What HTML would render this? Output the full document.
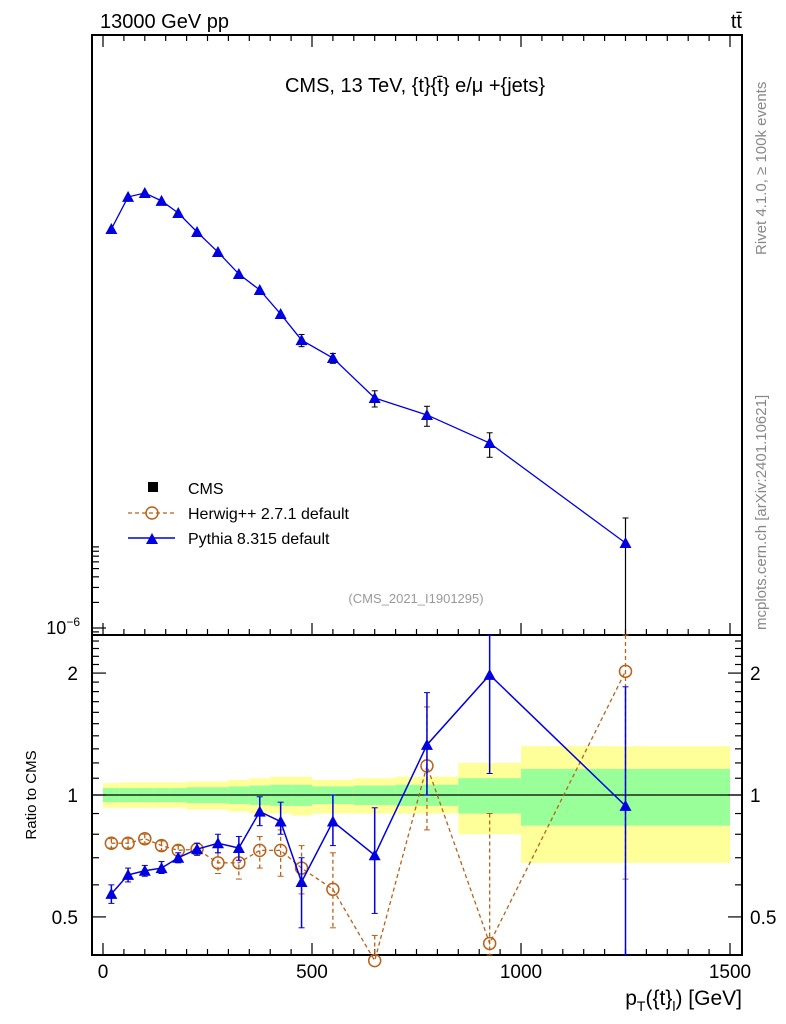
<!DOCTYPE html>
<html><head><meta charset="utf-8"><style>
body{margin:0;background:#fff}
svg{display:block;font-family:"Liberation Sans",sans-serif}
</style></head><body>
<svg id="c" width="786" height="1024" viewBox="0 0 786 1024" xmlns="http://www.w3.org/2000/svg">
<text x="100" y="28" font-size="20">13000 GeV pp</text>
<text x="742" y="28" font-size="20" text-anchor="end">tt̄</text>
<text x="415" y="92" font-size="20" text-anchor="middle">CMS, 13 TeV, {t}{t̄} e/μ +{jets}</text>
<text x="416" y="603" font-size="13" fill="#999" text-anchor="middle">(CMS_2021_I1901295)</text>
<text transform="translate(766,255) rotate(-90)" font-size="15" fill="#888">Rivet 4.1.0, ≥ 100k events</text>
<text transform="translate(766,630) rotate(-90)" font-size="15" fill="#888">mcplots.cern.ch [arXiv:2401.10621]</text>
<text transform="translate(36,795) rotate(-90)" font-size="15" text-anchor="middle">Ratio to CMS</text>
<text x="742" y="1005" font-size="21" text-anchor="end">p<tspan font-size="14" dy="6">T</tspan><tspan dy="-6">({t}</tspan><tspan font-size="14" dy="6">l</tspan><tspan dy="-6">) [GeV]</tspan></text>
<g id="bands"></g>
<g id="axes"></g>
<g id="series"></g>
<g>
<rect x="148" y="482" width="10" height="10" fill="#000"/>
<text x="188" y="494" font-size="16">CMS</text>
<line x1="128" y1="513" x2="175" y2="513" stroke="#b8621b" stroke-dasharray="4,3" stroke-width="1.3"/>
<circle cx="152" cy="513" r="6" fill="none" stroke="#b8621b" stroke-width="1.5"/>
<text x="188" y="519" font-size="16">Herwig++ 2.7.1 default</text>
<line x1="128" y1="538" x2="175" y2="538" stroke="#0000e0" stroke-width="1.5"/>
<path d="M146,544 L152,533 L158,544 Z" fill="#0000e0"/>
<text x="188" y="544" font-size="16">Pythia 8.315 default</text>
</g>
</svg>
<script>
const binEdges=[0,40,80,120,160,200,250,300,350,400,450,500,600,700,850,1000,1500];
const binCenters=[20,60,100,140,180,225,275,325,375,425,475,550,650,775,925,1250];
const yellowUp=[1.07,1.075,1.075,1.075,1.075,1.08,1.08,1.09,1.10,1.11,1.11,1.09,1.10,1.11,1.20,1.32];
const yellowLo=[0.93,0.93,0.93,0.93,0.93,0.92,0.92,0.91,0.90,0.90,0.89,0.90,0.90,0.90,0.80,0.68];
const greenUp=[1.04,1.04,1.04,1.04,1.04,1.045,1.045,1.05,1.055,1.06,1.06,1.05,1.055,1.06,1.10,1.16];
const greenLo=[0.96,0.96,0.96,0.96,0.96,0.955,0.955,0.95,0.945,0.94,0.94,0.95,0.945,0.94,0.90,0.84];
// main panel (log scale)
const pyMain=[4.94e-2,1.18e-1,1.31e-1,1.06e-1,7.63e-2,4.56e-2,2.65e-2,1.46e-2,9.47e-3,4.94e-3,2.44e-3,1.50e-3,5.08e-4,3.21e-4,1.50e-4,1.0e-5];
const pyMainErr=[0,0,0,0,0,0,0,0,0,0,4e-4,2e-4,1.1e-4,8.5e-5,4.8e-5,9.7e-6];
// ratio panel
const pyRatio=[0.57,0.635,0.65,0.66,0.70,0.735,0.76,0.74,0.91,0.86,0.61,0.86,0.71,1.33,1.98,0.94];
const pyRatioUp=[0.60,0.66,0.67,0.685,0.72,0.76,0.80,0.79,0.99,0.96,0.70,1.00,0.93,1.79,2.6,1.85];
const pyRatioLo=[0.54,0.61,0.63,0.64,0.68,0.71,0.72,0.69,0.84,0.80,0.47,0.75,0.51,1.00,1.13,0.3];
const hwRatio=[0.76,0.76,0.78,0.75,0.73,0.735,0.68,0.68,0.73,0.73,0.66,0.585,0.39,1.18,0.43,2.02];
const hwRatioUp=[0.78,0.78,0.80,0.77,0.75,0.76,0.72,0.73,0.79,0.82,0.75,0.72,0.45,1.65,0.9,2.6];
const hwRatioLo=[0.74,0.74,0.76,0.73,0.71,0.71,0.64,0.62,0.66,0.63,0.57,0.47,0.35,0.82,0.35,0.62];
const xTicks=[0,500,1000,1500];
const rTicks=[0.5,1,2];

const NS="http://www.w3.org/2000/svg";
const L=92,R=742,T=35,M=635,B=955;
const X=v=>103+v*0.418;
const YM=v=>628-85*(Math.log10(v)+6);
const YR=v=>795-405*Math.log10(v);
function mk(tag,attrs,parent){const e=document.createElementNS(NS,tag);for(const k in attrs)e.setAttribute(k,attrs[k]);document.getElementById(parent).appendChild(e);return e;}
// bands
binCenters.forEach((c,i)=>{
 const x0=X(binEdges[i]),x1=X(binEdges[i+1]);
 const y=mk('rect',{x:x0,y:YR(yellowUp[i]),width:x1-x0,height:YR(yellowLo[i])-YR(yellowUp[i]),fill:'#ffff99'},'bands');
 
 
 const g=mk('rect',{x:x0,y:YR(greenUp[i]),width:x1-x0,height:YR(greenLo[i])-YR(greenUp[i]),fill:'#99ff99'},'bands');
 
 
});
// axes
mk('line',{x1:L,y1:795,x2:R,y2:795,stroke:'#000','stroke-width':1.2},'axes');
mk('rect',{x:L,y:T,width:R-L,height:B-T,fill:'none',stroke:'#000','stroke-width':2},'axes');
mk('line',{x1:L,y1:M,x2:R,y2:M,stroke:'#000','stroke-width':2},'axes');
for(let v=0;v<=1500;v+=50){const big=v%500===0;const x=X(v);
 [[B,-1],[M,-1],[T,1]].forEach(([y0,dd])=>mk('line',{x1:x,y1:y0,x2:x,y2:y0+dd*(big?12:6),stroke:'#000','stroke-width':1.2},'axes'));
}
xTicks.forEach(v=>{const t=mk('text',{x:X(v),y:978,'font-size':19,'text-anchor':'middle'},'axes');t.textContent=v;
 
 });
for(let k=4;k<=24;k++){const v=k/10;const y=YR(v);if(y<M||y>B)continue;const big=rTicks.includes(v);
 mk('line',{x1:L,y1:y,x2:L+(big?14:7),y2:y,stroke:'#000','stroke-width':1.2},'axes');
 mk('line',{x1:R,y1:y,x2:R-(big?14:7),y2:y,stroke:'#000','stroke-width':1.2},'axes');}
rTicks.forEach(v=>{[[78,'end'],[750,'start']].forEach(([x,a])=>{const t=mk('text',{x:x,y:YR(v)+7,'font-size':19,'text-anchor':a},'axes');t.textContent=v;
 
 });});
// main y minor ticks
for(let k=1;k<=10;k++){const y=YM(k*1e-6);if(y<545)continue;mk('line',{x1:L,y1:y,x2:L+(k===1||k===10?14:7),y2:y,stroke:'#000','stroke-width':1.2},'axes');}
for(let k=6;k<=9;k++){const y=YM(k*1e-7);if(y>M)continue;mk('line',{x1:L,y1:y,x2:L+7,y2:y,stroke:'#000','stroke-width':1.2},'axes');}
const yl=mk('text',{x:80,y:634,'font-size':18,'text-anchor':'end'},'axes');yl.innerHTML='10<tspan font-size="12" dy="-8">−6</tspan>';


// series
function clipY(y,top,bot){return Math.max(top,Math.min(bot,y));}
function tri(x,y,name){const p=mk('path',{d:`M${x-6},${y+5} L${x},${y-6} L${x+6},${y+5} Z`,fill:'#0000e0'},'series');
 
 }
// main pythia
let d='';binCenters.forEach((c,i)=>{d+=(i?'L':'M')+X(c)+','+YM(pyMain[i]);});
mk('path',{d:d,fill:'none',stroke:'#0000e0','stroke-width':1.3},'series');
binCenters.forEach((c,i)=>{const x=X(c);if(pyMainErr[i]>0){const lo=pyMain[i]-pyMainErr[i];const y1=clipY(YM(pyMain[i]+pyMainErr[i]),T,M),y2=lo>0?clipY(YM(lo),T,M):M;
 mk('line',{x1:x,y1:y1,x2:x,y2:y2,stroke:'#000','stroke-width':1.2},'series');
 mk('line',{x1:x-3,y1:y1,x2:x+3,y2:y1,stroke:'#000'},'series');
 if(lo>0)mk('line',{x1:x-3,y1:y2,x2:x+3,y2:y2,stroke:'#000'},'series');}
 tri(x,YM(pyMain[i]),'pythia-main-point');});
// ratio herwig
d='';binCenters.forEach((c,i)=>{d+=(i?'L':'M')+X(c)+','+YR(hwRatio[i]);});
mk('path',{d:d,fill:'none',stroke:'#b8621b','stroke-width':1.3,'stroke-dasharray':'4,3'},'series');
binCenters.forEach((c,i)=>{const x=X(c);const y1=clipY(YR(hwRatioUp[i]),M,B),y2=clipY(YR(hwRatioLo[i]),M,B);
 mk('line',{x1:x,y1:y1,x2:x,y2:y2,stroke:'#b8621b','stroke-width':1.3,'stroke-dasharray':'4,3'},'series');
 mk('line',{x1:x-3,y1:y1,x2:x+3,y2:y1,stroke:'#b8621b'},'series');mk('line',{x1:x-3,y1:y2,x2:x+3,y2:y2,stroke:'#b8621b'},'series');
 const ci=mk('circle',{cx:x,cy:YR(hwRatio[i]),r:6,fill:'none',stroke:'#b8621b','stroke-width':1.5},'series');
 
 });
// ratio pythia
d='';binCenters.forEach((c,i)=>{d+=(i?'L':'M')+X(c)+','+YR(pyRatio[i]);});
mk('path',{d:d,fill:'none',stroke:'#0000e0','stroke-width':1.5},'series');
binCenters.forEach((c,i)=>{const x=X(c);const y1=clipY(YR(pyRatioUp[i]),M,B),y2=clipY(YR(pyRatioLo[i]),M,B);
 mk('line',{x1:x,y1:y1,x2:x,y2:y2,stroke:'#0000e0','stroke-width':1.5},'series');
 mk('line',{x1:x-3,y1:y1,x2:x+3,y2:y1,stroke:'#0000e0'},'series');mk('line',{x1:x-3,y1:y2,x2:x+3,y2:y2,stroke:'#0000e0'},'series');
 tri(x,YR(pyRatio[i]),'pythia-ratio-point');});
</script>
</body></html>
